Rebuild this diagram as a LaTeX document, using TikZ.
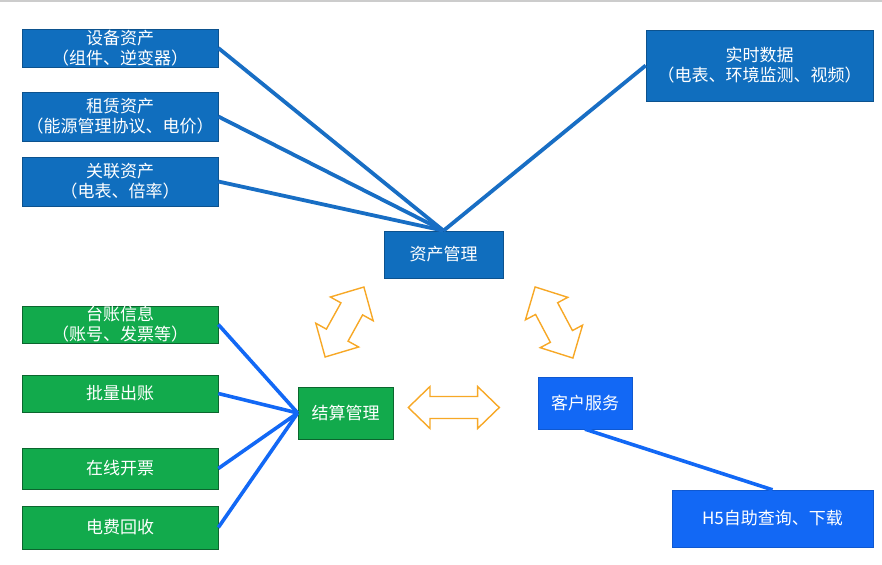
\documentclass[tikz,border=0pt]{standalone}
\usepackage{fontspec}
\setmainfont{Noto Sans CJK SC}
\usepackage{tikz}

\definecolor{assetblue}{RGB}{16,110,190}
\definecolor{linkblue}{RGB}{24,110,196}
\definecolor{servblue}{RGB}{18,104,245}
\definecolor{billgreen}{RGB}{18,170,76}
\definecolor{swaporange}{RGB}{247,168,38}

\begin{document}
\begin{tikzpicture}[x=1pt,y=-1pt,
        box/.style={inner sep=0pt, text=white, align=center,
                    font=\fontsize{17}{20}\selectfont},
        assetbox/.style={box, fill=assetblue, draw=assetblue!75!black, line width=0.6pt},
        billbox/.style={box, fill=billgreen, draw=billgreen!60!black, line width=0.6pt},
        servbox/.style={box, fill=servblue, draw=servblue!85!black, line width=0.4pt},
        assetlink/.style={draw=linkblue, line width=3.8pt},
        billlink/.style={draw=servblue, line width=3.6pt},
        swap/.style={draw=swaporange, line width=1.4pt, fill=white}]
    \useasboundingbox (0,0) rectangle (882,564);
    \draw[black!20, line width=1.5pt] (0,1) -- (882,1);

    % asset side
    \node[assetbox, minimum width=196pt, minimum height=38pt] (devasset) at (120,48) {设备资产\\（组件、逆变器）};
    \node[assetbox, minimum width=196pt, minimum height=49pt] (leaseasset) at (120,116.5) {租赁资产\\（能源管理协议、电价）};
    \node[assetbox, minimum width=196pt, minimum height=49pt] (linkasset) at (120,181.5) {关联资产\\（电表、倍率）};
    \node[assetbox, minimum width=227pt, minimum height=71pt] (realtime) at (759.5,65.5) {实时数据\\（电表、环境监测、视频）};
    \node[assetbox, minimum width=119pt, minimum height=47pt] (assetmgmt) at (443.5,254.5) {资产管理};

    % billing side
    \node[billbox, minimum width=196pt, minimum height=37pt] (ledger) at (120,324.5) {台账信息\\（账号、发票等）};
    \node[billbox, minimum width=196pt, minimum height=37pt] (batchbill) at (120,393.5) {批量出账};
    \node[billbox, minimum width=196pt, minimum height=41pt] (einvoice) at (120,468.5) {在线开票};
    \node[billbox, minimum width=196pt, minimum height=43pt] (feeback) at (120,527.5) {电费回收};
    \node[billbox, minimum width=95pt, minimum height=52pt] (billmgmt) at (345.5,413) {结算管理};

    % service side
    \node[servbox, minimum width=94pt, minimum height=52pt] (custserv) at (585,403) {客户服务};
    \node[servbox, minimum width=201pt, minimum height=57pt] (selfquery) at (772.5,518.5) {H5自助查询、下载};

    \foreach \src in {devasset,leaseasset,linkasset}
        \draw[assetlink] (\src.east) -- (assetmgmt.north);
    \draw[assetlink] (realtime.west) -- (assetmgmt.north);
    \foreach \src in {ledger,batchbill,einvoice,feeback}
        \draw[billlink] (\src.east) -- (billmgmt.west);
    \draw[billlink] (custserv.south) -- (selfquery.north);

    % double arrows
    \foreach \cx/\cy/\ang/\len/\hd/\hw/\sw in {344.5/322/61/80/25/24.5/12.4,
            554/322.5/-62/80.5/24.5/24/12.5, 453.8/407.5/0/91/21.7/21/11}
        \draw[swap, shift={(\cx,\cy)}, rotate=\ang]
            ({-\len/2},0) -- ({-\len/2+\hd},\hw) -- ({-\len/2+\hd},\sw)
            -- ({\len/2-\hd},\sw) -- ({\len/2-\hd},\hw) -- ({\len/2},0)
            -- ({\len/2-\hd},-\hw) -- ({\len/2-\hd},-\sw)
            -- ({-\len/2+\hd},-\sw) -- ({-\len/2+\hd},-\hw) -- cycle;
\end{tikzpicture}
\end{document}
